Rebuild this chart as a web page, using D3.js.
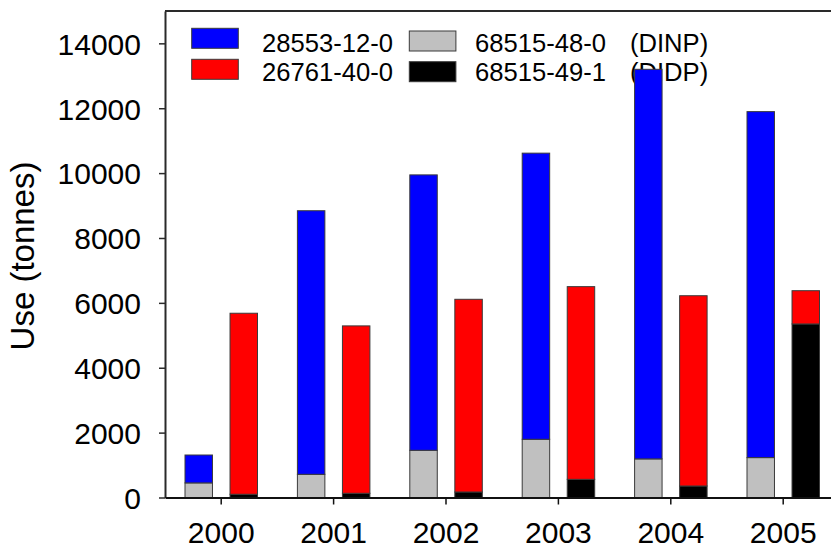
<!DOCTYPE html>
<html>
<head>
<meta charset="utf-8">
<script src="https://cdn.jsdelivr.net/npm/d3@7"></script>
<style>
  html, body { margin: 0; padding: 0; background: #fff; }
  svg { display: block; font-family: Arial, "Liberation Sans", sans-serif; }
</style>
</head>
<body>
<svg id="chart" width="831" height="551"></svg>
<script>
// ---- data ----
const years = ["2000", "2001", "2002", "2003", "2004", "2005"];
// left bar of each year: grey (DINP) base, blue (28553-12-0) on top
const dinp = [450, 715, 1455, 1795, 1190, 1230];
const cas28553 = [860, 8125, 8490, 8820, 12010, 10665];
// right bar of each year: black (DIDP) base, red (26761-40-0) on top
const didp = [100, 130, 170, 560, 355, 5350];
const cas26761 = [5580, 5160, 5940, 5940, 5865, 1025];
const yTicks = [0, 2000, 4000, 6000, 8000, 10000, 12000, 14000];
const legendItems = [
  { key: "cas28553", label: "28553-12-0", note: "", color: "#0000ff", col: 0, row: 0 },
  { key: "cas26761", label: "26761-40-0", note: "", color: "#ff0000", col: 0, row: 1 },
  { key: "dinp", label: "68515-48-0", note: "(DINP)", color: "#c0c0c0", col: 1, row: 0 },
  { key: "didp", label: "68515-49-1", note: "(DIDP)", color: "#000000", col: 1, row: 1 }
];

// ---- layout ----
const svg = d3.select("#chart");
const mLeft = 165, mRight = 839.4, mTop = 10.9, mBottom = 497.5;

const x = d3.scaleBand().domain(years).range([mLeft, mRight]).padding(0);
const x1 = d3.scaleBand().domain(["a", "b"]).range([20, 92.5]).paddingInner(0.39).paddingOuter(0);
const y = d3.scaleLinear().domain([0, 15000]).range([mBottom, mTop]);

const colors = { dinp: "#c0c0c0", cas28553: "#0000ff", didp: "#000000", cas26761: "#ff0000" };

// ---- legend (drawn first; bars overlap it as in the original) ----
const colX = [191.7, 409.3];
const colTextX = [262, 475];
const noteX = 630;
const rowY = [[28.3, 59.3], [31, 61.7]];
const lg = svg.append("g");
legendItems.forEach(it => {
  const sy = rowY[it.col][it.row];
  lg.append("rect")
    .attr("x", colX[it.col]).attr("y", sy)
    .attr("width", 46.6).attr("height", 20)
    .attr("fill", it.color).attr("stroke", "#3a3a3a").attr("stroke-width", 1);
  const baseline = it.row === 0 ? 51.7 : 81;
  lg.append("text").attr("x", colTextX[it.col]).attr("y", baseline)
    .attr("font-size", 25.6).attr("fill", "#000").text(it.label);
  if (it.note) {
    lg.append("text").attr("x", noteX).attr("y", baseline)
      .attr("font-size", 25.6).attr("fill", "#000").text(it.note);
  }
});

// stacks
const leftRows = years.map((yr, i) => ({ year: yr, dinp: dinp[i], cas28553: cas28553[i] }));
const rightRows = years.map((yr, i) => ({ year: yr, didp: didp[i], cas26761: cas26761[i] }));
const leftStack = d3.stack().keys(["dinp", "cas28553"])(leftRows);
const rightStack = d3.stack().keys(["didp", "cas26761"])(rightRows);

function drawStack(stack, slot) {
  stack.forEach(layer => {
    svg.append("g").selectAll("rect")
      .data(layer)
      .join("rect")
      .attr("x", d => x(d.data.year) + x1(slot))
      .attr("width", x1.bandwidth())
      .attr("y", d => y(d[1]))
      .attr("height", d => y(d[0]) - y(d[1]))
      .attr("fill", colors[layer.key])
      .attr("stroke", "#3a3a3a")
      .attr("stroke-width", 1);
  });
}
drawStack(leftStack, "a");
drawStack(rightStack, "b");

// ---- axes ----
const yAxis = d3.axisLeft(y).tickValues(yTicks).tickSize(6).tickSizeOuter(0).tickPadding(18)
  .tickFormat(d3.format("d"));
const gy = svg.append("g").attr("transform", `translate(${mLeft},0)`).call(yAxis);
gy.select(".domain").attr("stroke", "#2a2a2a").attr("stroke-width", 2);
gy.selectAll(".tick line").attr("stroke", "#2a2a2a").attr("stroke-width", 1.5);
gy.selectAll(".tick text").attr("font-size", 30).attr("fill", "#000")
  .attr("font-family", "Arial, 'Liberation Sans', sans-serif").attr("dy", "0.36em");

const xAxis = d3.axisBottom(x).tickSize(7).tickSizeOuter(0).tickPadding(17);
const gx = svg.append("g").attr("transform", `translate(0,${mBottom})`).call(xAxis);
gx.select(".domain").attr("stroke", "#111").attr("stroke-width", 2);
gx.selectAll(".tick line").attr("stroke", "#111").attr("stroke-width", 1.5);
gx.selectAll(".tick text").attr("font-size", 30).attr("fill", "#000")
  .attr("font-family", "Arial, 'Liberation Sans', sans-serif").attr("dy", "0.71em");

// top frame line
svg.append("line").attr("x1", mLeft).attr("x2", mRight).attr("y1", mTop).attr("y2", mTop)
  .attr("stroke", "#2a2a2a").attr("stroke-width", 2);

// y axis title
svg.append("text")
  .attr("transform", `translate(34,256) rotate(-90)`)
  .attr("text-anchor", "middle")
  .attr("font-size", 33)
  .attr("fill", "#000")
  .text("Use (tonnes)");
</script>
</body>
</html>
